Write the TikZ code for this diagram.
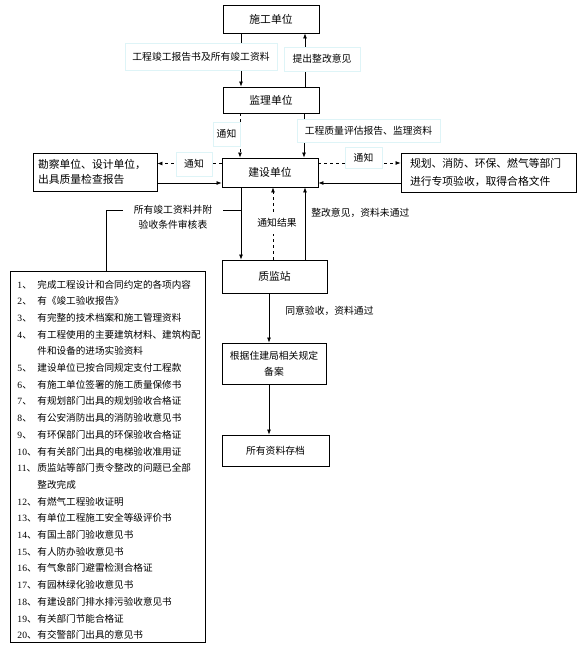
\documentclass[tikz,border=0pt]{standalone}
\usepackage{fontspec}
\setmainfont{Liberation Serif}
\newfontfamily\cjk{Noto Sans CJK SC}
\usetikzlibrary{arrows.meta}
\definecolor{tagline}{RGB}{222,244,247}
\newcommand{\reqno}[1]{\makebox[20pt][l]{{\rmfamily #1}、}}
\newcommand{\reqpad}{\hspace*{20pt}}

\begin{document}
\begin{tikzpicture}[
                x=1pt, y=-1pt,
                >={Latex[length=5pt,width=4pt]},
                line width=0.7pt,
                font=\cjk\fontsize{9.8}{15}\selectfont,
                unit/.style={draw, line width=0.9pt, fill=white, font=\cjk\fontsize{10.8}{16}\selectfont},
                tag/.style={draw=tagline, line width=0.6pt, fill=white, inner sep=0pt},
                note/.style={fill=white, inner sep=0pt}
            ]
            \useasboundingbox (0,0) rectangle (581,655);

            % 各单位
            \node[unit, minimum width=96pt, minimum height=28pt] (sg) at (271,19) {施工单位};
            \node[unit, minimum width=96pt, minimum height=26pt] (jl) at (271,100) {监理单位};
            \node[unit, minimum width=96pt, minimum height=29pt] (js) at (270,172.5) {建设单位};
            \node[unit, text width=114pt, inner xsep=5pt, minimum height=38pt, align=left,
                  font=\cjk\fontsize{10.8}{15}\selectfont] (kc) at (95,172) {勘察单位、设计单位，\\出具质量检查报告};
            \node[unit, text width=157pt, inner xsep=9pt, minimum height=39pt, align=left,
                  font=\cjk\fontsize{10.8}{18}\selectfont] (gh) at (488.5,172.5) {规划、消防、环保、燃气等部门\\进行专项验收，取得合格文件};
            \node[unit, minimum width=105pt, minimum height=33pt] (zj) at (274.5,276.5) {质监站};
            \node[unit, minimum width=104pt, minimum height=41pt, align=center,
                  font=\cjk\fontsize{9.8}{16}\selectfont] (ba) at (274,363.5) {根据住建局相关规定\\备案};
            \node[unit, minimum width=107pt, minimum height=31pt,
                  font=\cjk\fontsize{9.8}{15}\selectfont] (cd) at (275.5,450.5) {所有资料存档};

            % 竣工验收条件
            \node[draw, line width=0.9pt, anchor=north west, text width=181pt, inner xsep=7pt, inner ysep=3pt,
                  align=left, font=\cjk\fontsize{9.6}{16.7}\selectfont] (reqs) at (10,271) {
                \rule{0pt}{13.6pt}\reqno{1}完成工程设计和合同约定的各项内容\\
                \reqno{2}有《竣工验收报告》\\
                \reqno{3}有完整的技术档案和施工管理资料\\
                \reqno{4}有工程使用的主要建筑材料、建筑构配\\
                \reqpad 件和设备的进场实验资料\\
                \reqno{5}建设单位已按合同规定支付工程款\\
                \reqno{6}有施工单位签署的施工质量保修书\\
                \reqno{7}有规划部门出具的规划验收合格证\\
                \reqno{8}有公安消防出具的消防验收意见书\\
                \reqno{9}有环保部门出具的环保验收合格证\\
                \reqno{10}有有关部门出具的电梯验收准用证\\
                \reqno{11}质监站等部门责令整改的问题已全部\\
                \reqpad 整改完成\\
                \reqno{12}有燃气工程验收证明\\
                \reqno{13}有单位工程施工安全等级评价书\\
                \reqno{14}有国土部门验收意见书\\
                \reqno{15}有人防办验收意见书\\
                \reqno{16}有气象部门避雷检测合格证\\
                \reqno{17}有园林绿化验收意见书\\
                \reqno{18}有建设部门排水排污验收意见书\\
                \reqno{19}有关部门节能合格证\\
                \reqno{20}有交警部门出具的意见书};

            % 流程箭头
            \draw[->] ([xshift=-30pt]sg.south) -- ([xshift=-30pt]jl.north);
            \draw[->] ([xshift=34pt]jl.north) -- ([xshift=34pt]sg.south);
            \draw[->, dashed] ([xshift=-31pt]jl.south) -- ([xshift=-30pt]js.north);
            \draw[->] ([xshift=33pt]jl.south) -- ([xshift=34pt]js.north);
            \draw[->, dashed] (js.west |- 0,163.5) -- (kc.east |- 0,163.5);
            \draw[->] (kc.east |- 0,183) -- (js.west |- 0,183);
            \draw[->, dashed] (js.east |- 0,163) -- (gh.west |- 0,163);
            \draw[->] (gh.west |- 0,183) -- (js.east |- 0,183);
            \draw[->] (js.south -| 241,0) -- (zj.north -| 241,0);
            \draw[->, dashed] (zj.north -| 273,0) -- (js.south -| 273,0);
            \draw[->] (zj.north -| 305,0) -- (js.south -| 305,0);
            \draw[->] (zj.south -| 269,0) -- (ba.north -| 269,0);
            \draw[->] (ba.south -| 269,0) -- (cd.north -| 269,0);

            % 引线到条件框
            \coordinate (tap) at (241,210);
            \draw (tap) -| ([xshift=-2pt]reqs.north);

            % 箭头说明
            \node[tag, minimum width=152pt, minimum height=27pt] (t1) at (201,56.5) {工程竣工报告书及所有竣工资料};
            \node[tag, minimum width=76pt, minimum height=24pt] (t2) at (322,59) {提出整改意见};
            \node[tag, minimum width=27pt, minimum height=24pt] (t3) at (226.5,134) {通知};
            \node[tag, minimum width=143pt, minimum height=23pt] (t4) at (368.5,130.5) {工程质量评估报告、监理资料};
            \node[tag, minimum width=36pt, minimum height=24pt] (t5) at (194,164) {通知};
            \node[tag, minimum width=37pt, minimum height=21pt] (t6) at (363.5,157.5) {通知};
            \node[note, inner ysep=6pt] (t7) at (277,223) {通知结果};
            \node[note, anchor=west] (t8) at (311,213) {整改意见，资料未通过};
            \node[note, anchor=west] (t9) at (285,311) {同意验收，资料通过};
            \node[note, inner xsep=11pt, align=center] (t10) at (173,217.5) {所有竣工资料并附\\验收条件审核表};
        \end{tikzpicture}
\end{document}
